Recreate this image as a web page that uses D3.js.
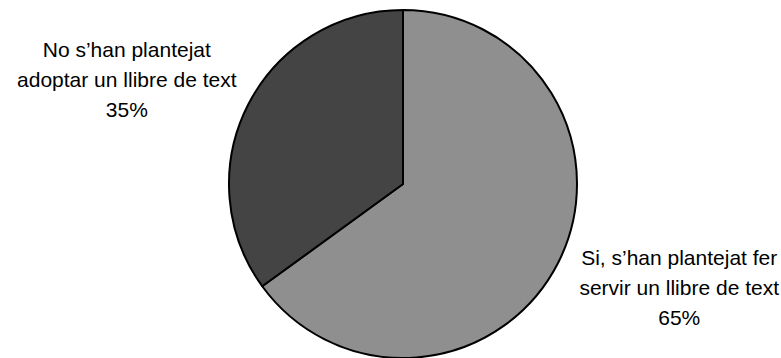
<!DOCTYPE html>
<html>
<head>
<meta charset="utf-8">
<script src="https://cdn.jsdelivr.net/npm/d3@7"></script>
<style>
  html, body { margin: 0; padding: 0; background: #fff; }
  svg { display: block; }
  .label { font-family: "Liberation Sans", Arial, sans-serif; font-size: 21px; fill: #000; }
</style>
</head>
<body>
<div id="chart"></div>
<script>
// Data
const categories = ["Si, s\u2019han plantejat fer servir un llibre de text", "No s\u2019han plantejat adoptar un llibre de text"];
const labelLines = [
    ["Si, s\u2019han plantejat fer", "servir un llibre de text", "65%"],
    ["No s\u2019han plantejat", "adoptar un llibre de text", "35%"]
];
const values = [65, 35];
const colors = ["#8f8f8f", "#444444"];

const width = 781, height = 358;
const cx = 403, cy = 184, radius = 174;

const svg = d3.select("#chart").append("svg")
    .attr("width", width)
    .attr("height", height);

const pie = d3.pie().sort(null).value(d => d);
const arcs = pie(values);

const arc = d3.arc().innerRadius(0).outerRadius(radius);

const g = svg.append("g").attr("transform", `translate(${cx},${cy})`);

g.selectAll("path.slice")
    .data(arcs)
    .enter().append("path")
    .attr("class", "slice")
    .attr("d", arc)
    .attr("fill", (d, i) => colors[i])
    .attr("stroke", "#000")
    .attr("stroke-width", 2)
    .attr("stroke-linejoin", "round");

// labels placed outside, along each slice's middle angle
const labelRx = 310, labelRy = 229, lineH = 30;
const labels = g.selectAll("text.label")
    .data(arcs)
    .enter().append("text")
    .attr("class", "label")
    .attr("text-anchor", "middle")
    .attr("transform", d => {
        const a = (d.startAngle + d.endAngle) / 2;
        return `translate(${labelRx * Math.sin(a)},${-labelRy * Math.cos(a)})`;
    });

labels.each(function(d, i) {
    const lines = labelLines[i];
    d3.select(this).selectAll("tspan")
        .data(lines)
        .enter().append("tspan")
        .attr("x", 0)
        .attr("y", (l, j) => (j - (lines.length - 1) / 2) * lineH)
        .attr("dy", "0.35em")
        .text(l => l);
});
</script>
</body>
</html>
